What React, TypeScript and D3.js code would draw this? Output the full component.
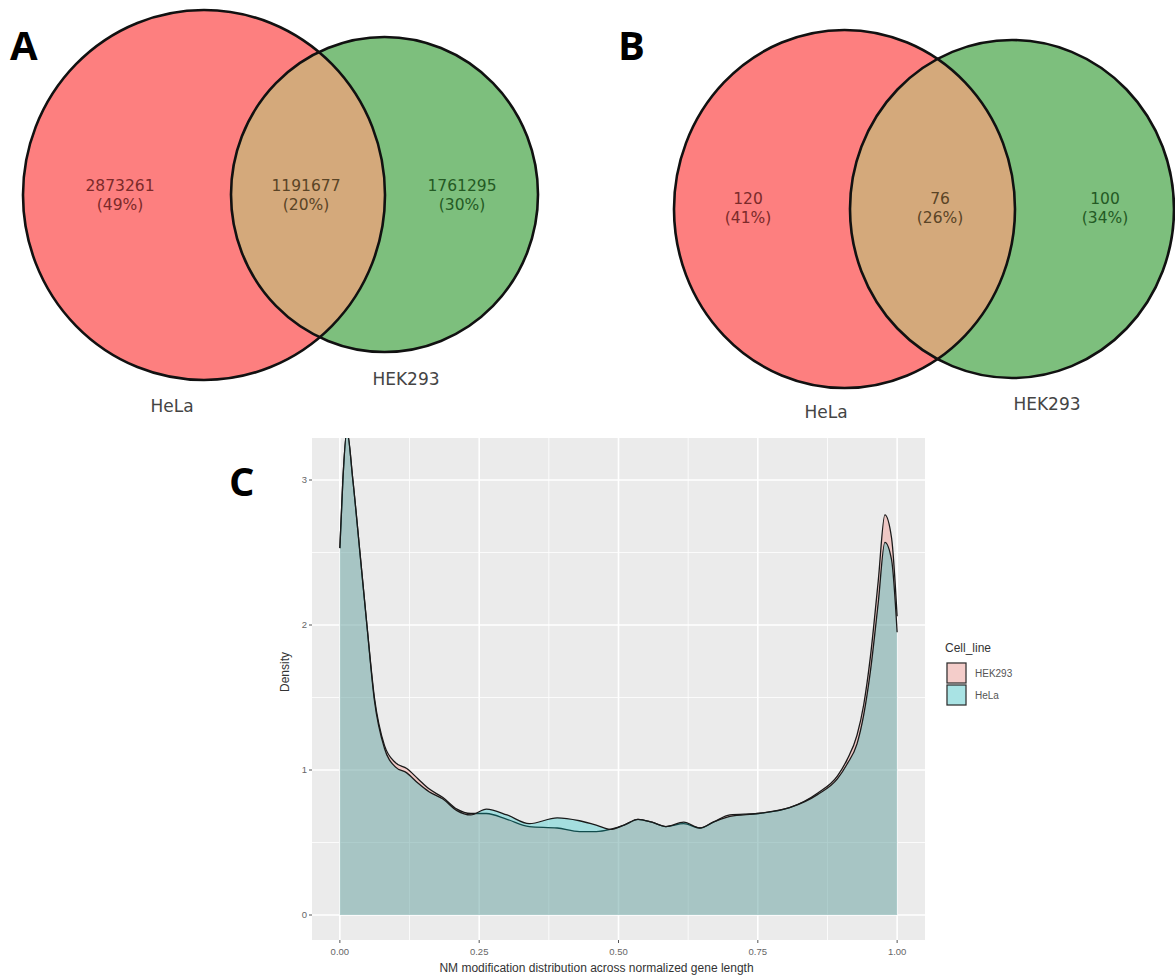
import React from "react";
import * as d3 from "d3";

// ---------- Data ----------
const setNames = ["HeLa", "HEK293"];
const vennACounts = [2873261, 1191677, 1761295]; // HeLa only, both, HEK293 only
const vennBCounts = [120, 76, 100];

const cellLines = ["HEK293", "HeLa"];
const densityX = [
  0, 0.0054, 0.0126, 0.0233, 0.036, 0.0485, 0.062, 0.08, 0.1, 0.12, 0.14, 0.16, 0.185, 0.21, 0.235,
  0.263, 0.3, 0.34, 0.39, 0.43, 0.46, 0.485, 0.51, 0.535, 0.56, 0.585, 0.617, 0.646, 0.67, 0.7, 0.75,
  0.807, 0.857, 0.893, 0.91, 0.928, 0.94, 0.952, 0.966, 0.978, 0.99, 1.0,
];
const hekDensity = [
  2.53, 3.0, 3.34, 3.0, 2.5, 2.0, 1.5, 1.17, 1.05, 1.01, 0.94, 0.87, 0.81, 0.73, 0.7, 0.7, 0.66, 0.61,
  0.6, 0.575, 0.575, 0.59, 0.62, 0.66, 0.64, 0.61, 0.63, 0.6, 0.64, 0.69, 0.7, 0.74, 0.84, 0.96, 1.07,
  1.24, 1.45, 1.78, 2.3, 2.76, 2.6, 2.06,
];
const helaDensity = [
  2.53, 3.0, 3.34, 3.0, 2.5, 2.0, 1.48, 1.15, 1.02, 0.98, 0.91, 0.85, 0.8, 0.72, 0.69, 0.73, 0.69, 0.63,
  0.67, 0.65, 0.62, 0.59, 0.62, 0.66, 0.64, 0.61, 0.64, 0.6, 0.64, 0.68, 0.7, 0.74, 0.83, 0.94, 1.04,
  1.18, 1.38, 1.68, 2.15, 2.57, 2.45, 1.95,
];
const xTicks = [0, 0.25, 0.5, 0.75, 1];
const xMinor = [0.125, 0.375, 0.625, 0.875];
const yTicks = [0, 1, 2, 3];
const yMinor = [0.5, 1.5, 2.5];

// ---------- Styles ----------
const RED = "#fd7f7f";
const GREEN = "#7dbf7d";
const TAN = "#d4a97b";
const vennFont = "'DejaVu Sans', sans-serif";
const ggFont = "'Liberation Sans', Arial, sans-serif";
const letterFont = "'Open Sans', 'Lato', sans-serif";

type VennGeom = {
  id: string;
  a: { cx: number; cy: number; rx: number; ry: number };
  b: { cx: number; cy: number; rx: number; ry: number };
  labelX: number[];
  countY: number;
  pctY: number;
  nameA: { x: number; y: number };
  nameB: { x: number; y: number };
  letter: { t: string; x: number; y: number };
};

function Venn({ g, counts }: { g: VennGeom; counts: number[] }) {
  const total = d3.sum(counts);
  const colors = ["#7b2a2a", "#5a4426", "#245a24"];
  return (
    <g>
      <defs>
        <clipPath id={`clip-${g.id}`}>
          <ellipse cx={g.b.cx} cy={g.b.cy} rx={g.b.rx} ry={g.b.ry} />
        </clipPath>
      </defs>
      <ellipse cx={g.a.cx} cy={g.a.cy} rx={g.a.rx} ry={g.a.ry} fill={RED} />
      <ellipse cx={g.b.cx} cy={g.b.cy} rx={g.b.rx} ry={g.b.ry} fill={GREEN} />
      <ellipse
        cx={g.a.cx}
        cy={g.a.cy}
        rx={g.a.rx}
        ry={g.a.ry}
        fill={TAN}
        clipPath={`url(#clip-${g.id})`}
      />
      <ellipse cx={g.a.cx} cy={g.a.cy} rx={g.a.rx} ry={g.a.ry} fill="none" stroke="#111" strokeWidth={2.6} />
      <ellipse cx={g.b.cx} cy={g.b.cy} rx={g.b.rx} ry={g.b.ry} fill="none" stroke="#111" strokeWidth={2.6} />
      {counts.map((c, i) => (
        <g key={i} fontFamily={vennFont} fontSize={15.5} fill={colors[i]} textAnchor="middle">
          <text x={g.labelX[i]} y={g.countY}>{c}</text>
          <text x={g.labelX[i]} y={g.pctY}>({Math.round((c / total) * 100)}%)</text>
        </g>
      ))}
      <text x={g.nameA.x} y={g.nameA.y} fontFamily={vennFont} fontSize={17} fill="#444" textAnchor="middle">
        {setNames[0]}
      </text>
      <text x={g.nameB.x} y={g.nameB.y} fontFamily={vennFont} fontSize={17} fill="#444" textAnchor="middle">
        {setNames[1]}
      </text>
      <text x={g.letter.x} y={g.letter.y} fontFamily={letterFont} fontWeight={700} fontSize={40} fill="#000">
        {g.letter.t}
      </text>
    </g>
  );
}

const geomA: VennGeom = {
  id: "A",
  a: { cx: 204, cy: 195, rx: 181, ry: 185 },
  b: { cx: 384.5, cy: 194.5, rx: 153.5, ry: 157.5 },
  labelX: [120, 306, 462],
  countY: 191,
  pctY: 210,
  nameA: { x: 172, y: 412 },
  nameB: { x: 406, y: 385 },
  letter: { t: "A", x: 10, y: 60 },
};

const geomB: VennGeom = {
  id: "B",
  a: { cx: 844.5, cy: 209, rx: 170.5, ry: 179 },
  b: { cx: 1012, cy: 209, rx: 162, ry: 169 },
  labelX: [748, 940, 1105],
  countY: 204,
  pctY: 223,
  nameA: { x: 826, y: 418 },
  nameB: { x: 1047, y: 410 },
  letter: { t: "B", x: 618, y: 60 },
};

function DensityPanel() {
  const left = 312,
    right = 925,
    top = 438,
    bottom = 940;
  const x = d3.scaleLinear().domain([-0.05, 1.05]).range([left, right]);
  const y = d3.scaleLinear().domain([-25 / 145, 477 / 145]).range([bottom, top]);

  const series = [
    { name: cellLines[0], vals: hekDensity, fill: "#F8766D" },
    { name: cellLines[1], vals: helaDensity, fill: "#00BFC4" },
  ];
  const area = d3
    .area<number>()
    .x((_, i) => x(densityX[i]))
    .y0(y(0))
    .y1((d) => y(d))
    .curve(d3.curveMonotoneX);
  const line = d3
    .line<number>()
    .x((_, i) => x(densityX[i]))
    .y((d) => y(d))
    .curve(d3.curveMonotoneX);

  return (
    <g>
      <defs>
        <clipPath id="panelC">
          <rect x={left} y={top} width={right - left} height={bottom - top} />
        </clipPath>
      </defs>
      <rect x={left} y={top} width={right - left} height={bottom - top} fill="#EBEBEB" />
      {xMinor.map((t) => (
        <line key={"xm" + t} x1={x(t)} x2={x(t)} y1={top} y2={bottom} stroke="#fff" strokeWidth={0.8} />
      ))}
      {yMinor.map((t) => (
        <line key={"ym" + t} x1={left} x2={right} y1={y(t)} y2={y(t)} stroke="#fff" strokeWidth={0.8} />
      ))}
      {xTicks.map((t) => (
        <line key={"xM" + t} x1={x(t)} x2={x(t)} y1={top} y2={bottom} stroke="#fff" strokeWidth={1.6} />
      ))}
      {yTicks.map((t) => (
        <line key={"yM" + t} x1={left} x2={right} y1={y(t)} y2={y(t)} stroke="#fff" strokeWidth={1.6} />
      ))}
      <g clipPath="url(#panelC)">
        {series.map((s) => (
          <g key={s.name}>
            <path d={area(s.vals) || ""} fill={s.fill} fillOpacity={0.3} />
            <path d={line(s.vals) || ""} fill="none" stroke="#1a1a1a" strokeWidth={1.3} />
          </g>
        ))}
      </g>
      {/* axes */}
      {yTicks.map((t) => (
        <g key={"yt" + t}>
          <line x1={left - 3} x2={left} y1={y(t)} y2={y(t)} stroke="#555" strokeWidth={1} />
          <text
            x={left - 5}
            y={y(t)}
            dy="0.35em"
            textAnchor="end"
            fontFamily={ggFont}
            fontSize={9.5}
            fill="#666"
          >
            {t}
          </text>
        </g>
      ))}
      {xTicks.map((t) => (
        <g key={"xt" + t}>
          <line x1={x(t)} x2={x(t)} y1={bottom} y2={bottom + 3} stroke="#555" strokeWidth={1} />
          <text
            x={x(t)}
            y={bottom + 15}
            textAnchor="middle"
            fontFamily={ggFont}
            fontSize={9.5}
            fill="#666"
          >
            {t.toFixed(2)}
          </text>
        </g>
      ))}
      <text
        x={(left + right) / 2 - 22}
        y={972}
        textAnchor="middle"
        fontFamily={ggFont}
        fontSize={12}
        fill="#333"
      >
        NM modification distribution across normalized gene length
      </text>
      <text
        transform={`translate(289, 672) rotate(-90)`}
        textAnchor="middle"
        fontFamily={ggFont}
        fontSize={12}
        fill="#333"
      >
        Density
      </text>
      {/* legend */}
      <text x={945} y={652} fontFamily={ggFont} fontSize={12} fill="#333">
        Cell_line
      </text>
      {series.map((s, i) => (
        <g key={"lg" + s.name}>
          <rect x={946} y={662 + i * 22} width={21} height={22} fill="#F2F2F2" />
          <rect
            x={947}
            y={663 + i * 22}
            width={19}
            height={20}
            fill={s.fill}
            fillOpacity={0.3}
            stroke="#2a2a2a"
            strokeWidth={1.2}
          />
          <text x={975} y={677 + i * 22} fontFamily={ggFont} fontSize={10} fill="#555">
            {s.name}
          </text>
        </g>
      ))}
      <text x={229} y={496} fontFamily={letterFont} fontWeight={700} fontSize={40} fill="#000">
        C
      </text>
    </g>
  );
}

export default function App() {
  return (
    <svg
      width={1175}
      height={980}
      viewBox="0 0 1175 980"
      style={{ position: "absolute", left: 0, top: 0, background: "#fff" }}
    >
      <rect width={1175} height={980} fill="#fff" />
      <Venn g={geomA} counts={vennACounts} />
      <Venn g={geomB} counts={vennBCounts} />
      <DensityPanel />
    </svg>
  );
}
